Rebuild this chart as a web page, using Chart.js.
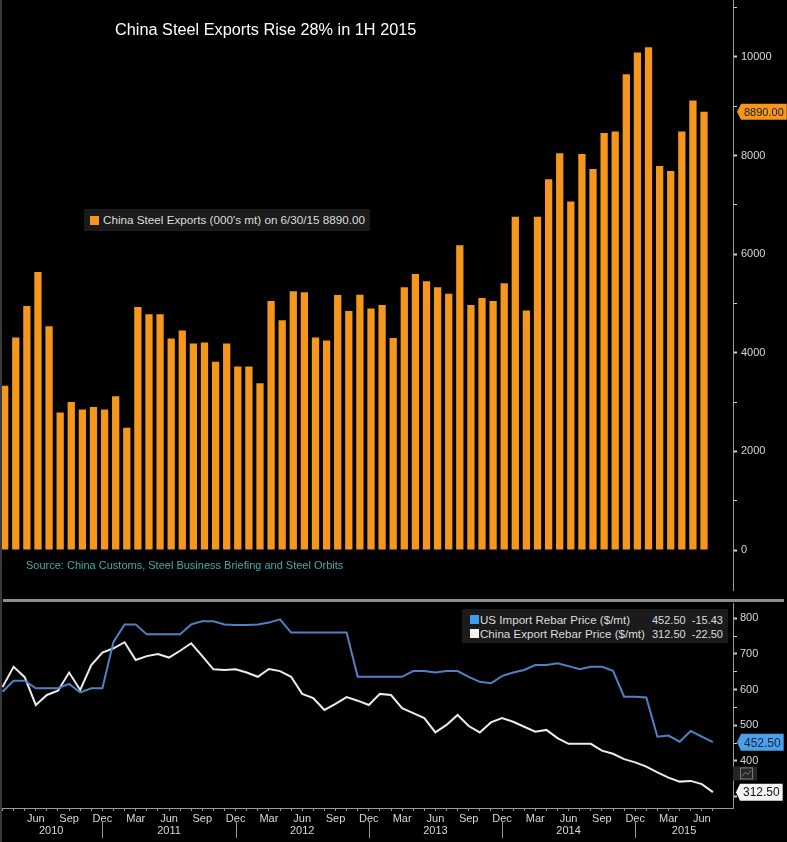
<!DOCTYPE html>
<html>
<head>
<meta charset="utf-8">
<title>China Steel Exports Rise 28% in 1H 2015</title>
<script src="https://cdn.jsdelivr.net/npm/chart.js@4.4.1/dist/chart.umd.min.js"></script>
<style>
  body { margin: 0; background: #000; width: 787px; height: 842px; overflow: hidden; position: relative;
         font-family: "Liberation Sans", Arial, sans-serif; }
  canvas { position: absolute; left: 0; }
  #exportsChart { top: 0; }
  #rebarChart { top: 598px; }
  .leftEdge { position: absolute; left: 0; top: 0; width: 2px; height: 842px; background: #3a3a3a; }
  .divider { position: absolute; left: 3px; top: 599px; width: 781px; height: 3px; background: #8e8e8e; }
  .title { position: absolute; left: 115px; top: 20px; color: #fff; font-size: 16.3px; white-space: nowrap; }
  .source { position: absolute; left: 26px; top: 559px; color: #4aa9aa; font-size: 11px; white-space: nowrap; }
  .legendTop { position: absolute; left: 84px; top: 209px; width: 286px; height: 22px; background: #1b1b1b;
               color: #ddd; font-size: 11.7px; line-height: 22px; white-space: nowrap; }
  .legendTop .sw { position: absolute; left: 6px; top: 7px; width: 9px; height: 9px; background: #f5971c; }
  .legendTop span.t { position: absolute; left: 19px; }
  .legendBottom { position: absolute; left: 462px; top: 609px; width: 266px; height: 34px; background: #1b1b1b;
                  color: #ddd; white-space: nowrap; }
  .legendBottom .row { position: absolute; left: 0; width: 266px; height: 14px; line-height: 14px; }
  .legendBottom .sw { position: absolute; left: 8px; top: 2px; width: 9px; height: 9px; }
  .legendBottom .name { position: absolute; left: 18px; font-size: 11.6px; }
  .legendBottom .val { position: absolute; left: 190px; font-size: 11px; }
  .legendBottom .chg { position: absolute; right: 5px; font-size: 11px; }
</style>
</head>
<body>
<canvas id="exportsChart" width="787" height="595"></canvas>
<canvas id="rebarChart" width="787" height="244"></canvas>
<div class="leftEdge"></div>
<div class="divider"></div>
<div class="title">China Steel Exports Rise 28% in 1H 2015</div>
<div class="source">Source: China Customs, Steel Business Briefing and Steel Orbits</div>
<div class="legendTop"><div class="sw"></div><span class="t">China Steel Exports (000's mt) on 6/30/15 8890.00</span></div>
<div class="legendBottom">
  <div class="row" style="top:4px"><div class="sw" style="background:#3d9cf0"></div><span class="name">US Import Rebar Price ($/mt)</span><span class="val">452.50</span><span class="chg">-15.43</span></div>
  <div class="row" style="top:18px"><div class="sw" style="background:#f2f2f2"></div><span class="name">China Export Rebar Price ($/mt)</span><span class="val">312.50</span><span class="chg">-22.50</span></div>
</div>
<script>
// months on the shared time axis, Mar 2010 .. Jul 2015
const months = [
  'Mar 2010','Apr 2010','May 2010','Jun 2010','Jul 2010','Aug 2010','Sep 2010','Oct 2010','Nov 2010','Dec 2010',
  'Jan 2011','Feb 2011','Mar 2011','Apr 2011','May 2011','Jun 2011','Jul 2011','Aug 2011','Sep 2011','Oct 2011','Nov 2011','Dec 2011',
  'Jan 2012','Feb 2012','Mar 2012','Apr 2012','May 2012','Jun 2012','Jul 2012','Aug 2012','Sep 2012','Oct 2012','Nov 2012','Dec 2012',
  'Jan 2013','Feb 2013','Mar 2013','Apr 2013','May 2013','Jun 2013','Jul 2013','Aug 2013','Sep 2013','Oct 2013','Nov 2013','Dec 2013',
  'Jan 2014','Feb 2014','Mar 2014','Apr 2014','May 2014','Jun 2014','Jul 2014','Aug 2014','Sep 2014','Oct 2014','Nov 2014','Dec 2014',
  'Jan 2015','Feb 2015','Mar 2015','Apr 2015','May 2015','Jun 2015','Jul 2015'
];
const years = ['2010', '2011', '2012', '2013', '2014', '2015'];
const quarterMonths = ['Mar', 'Jun', 'Sep', 'Dec'];

// China steel exports, 000's mt, Mar 2010 .. Jun 2015
const steelExports = [
  3330, 4310, 4950, 5640, 4540, 2790, 3000, 2850, 2900, 2850,
  3120, 2480, 4930, 4780, 4780, 4290, 4450, 4190, 4210, 3820, 4190, 3720,
  3720, 3380, 5050, 4660, 5250, 5230, 4310, 4250, 5170, 4850, 5180, 4900,
  4970, 4300, 5330, 5600, 5450, 5330, 5200, 6180, 4970, 5110, 5050, 5410,
  6760, 4860, 6760, 7520, 8050, 7070, 8030, 7730, 8460, 8490, 9650, 10090,
  10200, 7790, 7690, 8490, 9120, 8890
];

// rebar prices, $/mt, Mar 2010 .. Jul 2015
const usImportRebar = [
  594, 625, 625, 604, 604, 604, 616, 592, 604, 604,
  734, 783, 783, 755, 755, 755, 755, 783, 792, 792, 783, 781,
  781, 783, 788, 797, 760, 760, 760, 760, 760, 760, 636, 636,
  636, 636, 636, 652, 652, 648, 652, 652, 636, 622, 618, 638,
  648, 655, 669, 669, 674, 666, 657, 664, 664, 653, 580, 580,
  578, 468, 471, 454, 484, 468, 452.5
];
const chinaExportRebar = [
  607, 664, 635, 557, 585, 597, 648, 599, 669, 704,
  716, 733, 683, 694, 700, 690, 709, 730, 694, 657, 655, 657,
  648, 636, 658, 652, 636, 588, 576, 543, 560, 579, 569, 557,
  588, 585, 548, 534, 520, 480, 501, 529, 498, 480, 508, 520,
  510, 496, 482, 487, 464, 448, 448, 448, 429, 420, 405, 396,
  384, 368, 353, 342, 344, 335, 312.5
];

// axis ticks (marks), and the ones that carry a label
const exportsTicks = [0, 1000, 2000, 3000, 4000, 5000, 6000, 7000, 8000, 9000, 10000, 11000];
const exportsTickLabels = [0, 2000, 4000, 6000, 8000, 10000];
const rebarTicks = [300, 350, 400, 450, 500, 550, 600, 650, 700, 750, 800];
const rebarTickLabels = [300, 400, 500, 600, 700, 800];

const FONT = '"Liberation Sans", Arial, sans-serif';
const AXIS_GREY = '#9a9a9a';
const LABEL_GREY = '#d8d8d8';

// keep the right axis 54px wide and stop it from padding the plot area
function fixAxis(scale) {
  scale.width = 54;
  scale.paddingTop = 0;
  scale.paddingBottom = 0;
}

// price tag with a pointer, drawn at the last value of a series
function drawTag(ctx, x, y, text, bg, fg, size) {
  ctx.save();
  ctx.font = size + 'px ' + FONT;
  const w = ctx.measureText(text).width + 6;
  const h = size + 5;
  ctx.fillStyle = bg;
  ctx.beginPath();
  ctx.moveTo(x, y);
  ctx.lineTo(x + 4, y - h / 2);
  ctx.lineTo(x + 4 + w, y - h / 2);
  ctx.lineTo(x + 4 + w, y + h / 2);
  ctx.lineTo(x + 4, y + h / 2);
  ctx.closePath();
  ctx.fill();
  ctx.fillStyle = fg;
  ctx.textBaseline = 'middle';
  ctx.fillText(text, x + 7, y + 1);
  ctx.restore();
}

const exportsTag = {
  id: 'exportsTag',
  afterDraw(chart) {
    const last = steelExports[steelExports.length - 1];
    const y = chart.scales.y.getPixelForValue(last);
    drawTag(chart.ctx, chart.chartArea.right + 4, y, last.toFixed(2), '#f5971c', '#1a1a1a', 11);
  }
};

const rebarExtras = {
  id: 'rebarExtras',
  afterDraw(chart) {
    const ctx = chart.ctx;
    const x = chart.scales.x;
    const y = chart.scales.y;
    const area = chart.chartArea;

    // year labels and separators below the month labels
    const breaks = [];
    months.forEach((m, i) => { if (m.startsWith('Dec')) breaks.push(x.getPixelForValue(i)); });
    const edges = [area.left, ...breaks, area.right];
    ctx.save();
    ctx.font = '11px ' + FONT;
    ctx.fillStyle = LABEL_GREY;
    ctx.textAlign = 'center';
    ctx.textBaseline = 'middle';
    years.forEach((yr, i) => ctx.fillText(yr, (edges[i] + edges[i + 1]) / 2, 233));
    ctx.strokeStyle = AXIS_GREY;
    ctx.lineWidth = 1;
    breaks.forEach(px => {
      ctx.beginPath();
      ctx.moveTo(Math.round(px) + 0.5, 224);
      ctx.lineTo(Math.round(px) + 0.5, 240);
      ctx.stroke();
    });

    // small chart icon next to the axis
    const iy = y.getPixelForValue(365);
    ctx.fillStyle = '#262626';
    ctx.fillRect(area.right, iy - 7, 24, 14);
    ctx.strokeStyle = '#777';
    ctx.strokeRect(area.right + 7.5, iy - 5.5, 12, 11);
    ctx.beginPath();
    ctx.moveTo(area.right + 9, iy + 3);
    ctx.lineTo(area.right + 12, iy - 1);
    ctx.lineTo(area.right + 15, iy + 1);
    ctx.lineTo(area.right + 18, iy - 3);
    ctx.stroke();
    ctx.restore();

    const us = usImportRebar[usImportRebar.length - 1];
    const cn = chinaExportRebar[chinaExportRebar.length - 1];
    drawTag(ctx, area.right + 4, y.getPixelForValue(us), us.toFixed(2), '#4b9fe6', '#0d2442', 12);
    drawTag(ctx, area.right + 3, y.getPixelForValue(cn), cn.toFixed(2), '#f4f4f4', '#111', 12);
  }
};

Chart.defaults.font.family = FONT;
Chart.defaults.font.size = 11;
Chart.defaults.color = LABEL_GREY;

new Chart(document.getElementById('exportsChart'), {
  type: 'bar',
  data: {
    datasets: [{
      label: "China Steel Exports (000's mt)",
      data: steelExports.map((v, i) => ({ x: i, y: v })),
      backgroundColor: '#f5971c',
      borderWidth: 0,
      barPercentage: 0.82,
      categoryPercentage: 0.8
    }]
  },
  options: {
    responsive: false,
    animation: false,
    layout: { padding: { top: 0, bottom: 5, left: 0, right: 0 } },
    plugins: { legend: { display: false }, tooltip: { enabled: false } },
    scales: {
      x: { type: 'linear', display: false, offset: false, min: -0.42, max: 65.61 },
      y: {
        position: 'right',
        min: -811,
        max: 11156,
        afterFit: fixAxis,
        afterBuildTicks: scale => { scale.ticks = exportsTicks.map(v => ({ value: v })); },
        border: { display: true, color: AXIS_GREY, width: 1 },
        grid: { drawOnChartArea: false, drawTicks: true, tickLength: 4, tickColor: '#cfcfcf',
                tickWidth: ctx => (ctx.tick && exportsTickLabels.includes(ctx.tick.value) ? 2 : 1) },
        ticks: {
          autoSkip: false,
          padding: 4,
          color: LABEL_GREY,
          font: { size: 11 },
          callback: v => (exportsTickLabels.includes(v) ? String(v) : '')
        }
      }
    }
  },
  plugins: [exportsTag]
});

new Chart(document.getElementById('rebarChart'), {
  type: 'line',
  data: {
    datasets: [
      {
        label: 'US Import Rebar Price ($/mt)',
        data: usImportRebar.map((v, i) => ({ x: i, y: v })),
        borderColor: '#4f82c4',
        borderWidth: 2,
        pointRadius: 0,
        tension: 0
      },
      {
        label: 'China Export Rebar Price ($/mt)',
        data: chinaExportRebar.map((v, i) => ({ x: i, y: v })),
        borderColor: '#ececec',
        borderWidth: 2,
        pointRadius: 0,
        tension: 0
      }
    ]
  },
  options: {
    responsive: false,
    animation: false,
    layout: { padding: { top: 5, bottom: 0, left: 0, right: 0 } },
    plugins: { legend: { display: false }, tooltip: { enabled: false } },
    scales: {
      x: {
        type: 'linear',
        min: -0.225,
        max: 65.81,
        offset: false,
        afterFit: scale => { scale.height = 34; },
        afterBuildTicks: scale => { scale.ticks = months.map((m, i) => ({ value: i })); },
        border: { display: true, color: AXIS_GREY, width: 1 },
        grid: { drawOnChartArea: false, drawTicks: true, tickLength: 3, tickColor: AXIS_GREY },
        ticks: {
          autoSkip: false,
          maxRotation: 0,
          padding: 1,
          color: LABEL_GREY,
          callback: v => {
            const m = months[v];
            if (!m || v < 3) return '';
            const name = m.slice(0, 3);
            return quarterMonths.includes(name) ? name : '';
          }
        }
      },
      y: {
        position: 'right',
        min: 268,
        max: 843,
        afterFit: fixAxis,
        afterBuildTicks: scale => { scale.ticks = rebarTicks.map(v => ({ value: v })); },
        border: { display: true, color: AXIS_GREY, width: 1 },
        grid: { drawOnChartArea: false, drawTicks: true, tickLength: 4, tickColor: '#cfcfcf',
                tickWidth: ctx => (ctx.tick && rebarTickLabels.includes(ctx.tick.value) ? 2 : 1) },
        ticks: {
          autoSkip: false,
          padding: 3,
          color: LABEL_GREY,
          callback: v => (rebarTickLabels.includes(v) ? String(v) : '')
        }
      }
    }
  },
  plugins: [rebarExtras]
});
</script>
</body>
</html>
